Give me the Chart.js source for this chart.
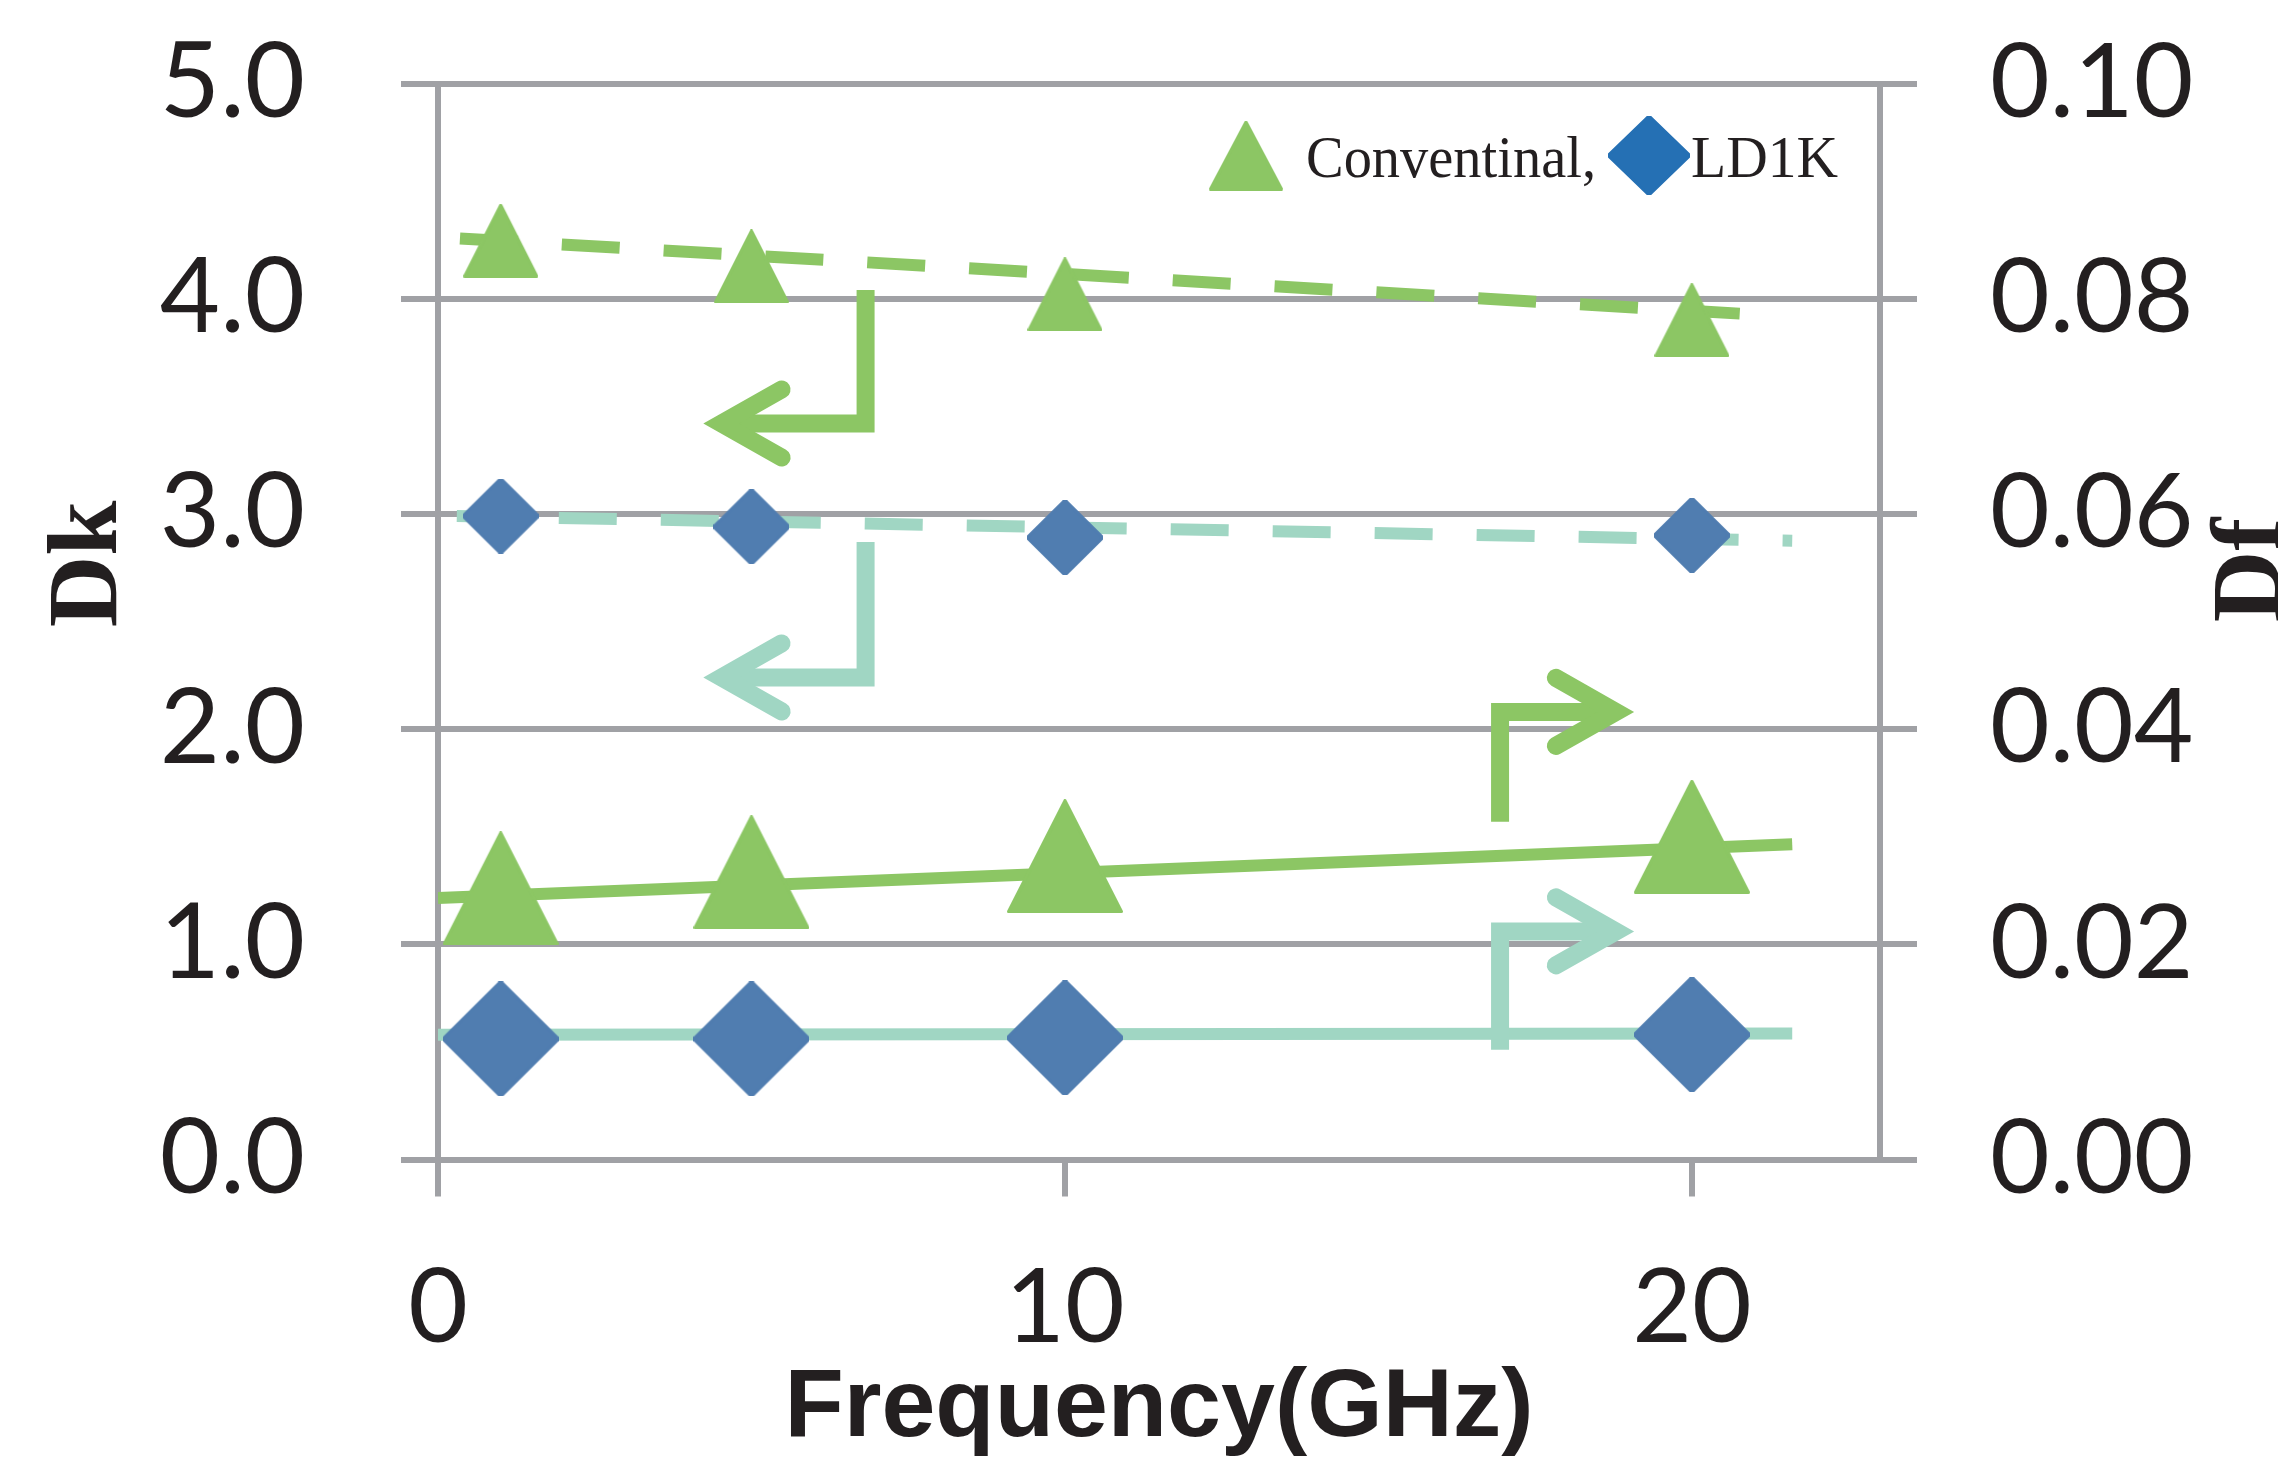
<!DOCTYPE html>
<html>
<head>
<meta charset="utf-8">
<script src="https://cdn.jsdelivr.net/npm/chart.js@4.4.1/dist/chart.umd.min.js"></script>
<style>
html, body { margin: 0; padding: 0; background: #fff; }
#box { width: 2278px; height: 1458px; position: relative; }
</style>
</head>
<body>
<div id="box"><canvas id="grafico"></canvas></div>
<script>
// valores
var frequencias = [1, 5, 10, 20];
var dkConventional = [4.27, 4.15, 4.02, 3.90];
var dkLD1K = [2.99, 2.94, 2.89, 2.90];
var dfConventional = [0.0252, 0.0267, 0.0282, 0.0300];
var dfLD1K = [0.0112, 0.0112, 0.0113, 0.0116];

// linhas de tendencia (inicio e fim)
var trendDkConvX = [0.35, 20.8];
var trendDkConventional = [4.28, 3.93];
var trendDkLD1KX = [0.3, 21.6];
var trendDkLD1K = [2.99, 2.875];
var trendDfX = [0, 21.6];
var trendDfConventional = [0.0243, 0.0293];
var trendDfLD1K = [0.0116, 0.0117];

var xTicks = [0, 10, 20];
var dkTicks = [0, 1, 2, 3, 4, 5];
var dfTicks = [0, 0.02, 0.04, 0.06, 0.08, 0.10];
var legendLabels = ['Conventinal,', 'LD1K'];

var GREEN = '#8CC664';
var TEAL = '#A0D6C3';
var BLUE = '#507DB0';
var LEGEND_BLUE = '#2570B4';
var GRID = '#A0A1A5';
var TEXT = '#231F20';

// setas: caminho em valores dos eixos, o ultimo ponto e a ponta
var arrows = [
    { axis: 'y', color: GREEN, x: [6.82, 6.82, 4.22], y: [4.04, 3.42, 3.42] },
    { axis: 'y', color: TEAL, x: [6.82, 6.82, 4.22], y: [2.87, 2.24, 2.24] },
    { axis: 'y1', color: GREEN, x: [16.94, 16.94, 19.09], y: [0.0314, 0.0416, 0.0416] },
    { axis: 'y1', color: TEAL, x: [16.94, 16.94, 19.09], y: [0.0102, 0.0212, 0.0212] }
];

function Marcador(forma, w, h, cor) {
    var c = document.createElement('canvas');
    c.width = w;
    c.height = h;
    var g = c.getContext('2d');
    g.fillStyle = cor;
    g.strokeStyle = cor;
    g.lineWidth = 3;
    g.lineJoin = 'round';
    g.beginPath();
    if (forma === 'tri') {
        g.moveTo(w / 2, 1.5);
        g.lineTo(w - 1.5, h - 1.5);
        g.lineTo(1.5, h - 1.5);
    } else {
        g.moveTo(w / 2, 0);
        g.lineTo(w, h / 2);
        g.lineTo(w / 2, h);
        g.lineTo(0, h / 2);
    }
    g.closePath();
    g.fill();
    g.stroke();
    return c;
}

function Pontos(xs, ys) {
    return xs.map(function (x, i) { return { x: x, y: ys[i] }; });
}

function Ticks(valores) {
    return function (s) {
        s.ticks = valores.map(function (v) { return { value: v }; });
    };
}

// tamanho fixo do eixo, sem a folga que o Chart.js soma para os rotulos
function Tamanho(campo, valor) {
    return function (s) {
        s[campo] = valor;
        s.paddingTop = 0;
        s.paddingBottom = 0;
        s.paddingLeft = 0;
        s.paddingRight = 0;
    };
}

function DesenharSeta(ctx, pts, cor) {
    var n = pts.length;
    var tip = pts[n - 1], prev = pts[n - 2];
    var dx = tip.x - prev.x, dy = tip.y - prev.y;
    var len = Math.sqrt(dx * dx + dy * dy);
    var ux = dx / len, uy = dy / len;
    var vx = tip.x - ux * 19, vy = tip.y - uy * 19;
    ctx.save();
    ctx.strokeStyle = cor;
    ctx.lineWidth = 18;
    ctx.lineCap = 'butt';
    ctx.lineJoin = 'miter';
    ctx.beginPath();
    ctx.moveTo(pts[0].x, pts[0].y);
    for (var i = 1; i < n - 1; i++) ctx.lineTo(pts[i].x, pts[i].y);
    ctx.lineTo(vx, vy);
    ctx.stroke();
    ctx.lineCap = 'round';
    ctx.miterLimit = 10;
    ctx.beginPath();
    ctx.moveTo(vx - ux * 60 - uy * 34, vy - uy * 60 + ux * 34);
    ctx.lineTo(vx, vy);
    ctx.lineTo(vx - ux * 60 + uy * 34, vy - uy * 60 - ux * 34);
    ctx.stroke();
    ctx.restore();
}

function TextoVertical(ctx, texto, x, y) {
    ctx.save();
    ctx.translate(x, y);
    ctx.rotate(-Math.PI / 2);
    ctx.font = 'bold 99px "Liberation Serif"';
    ctx.fillStyle = TEXT;
    ctx.textAlign = 'center';
    ctx.textBaseline = 'alphabetic';
    ctx.fillText(texto, 0, 0);
    ctx.restore();
}

var legTri = Marcador('tri', 74, 70, GREEN);
var legDia = Marcador('dia', 82, 79, LEGEND_BLUE);

var extras = {
    id: 'extras',
    afterDatasetsDraw: function (chart) {
        var ctx = chart.ctx;
        var sx = chart.scales.x;
        arrows.forEach(function (a) {
            var sy = chart.scales[a.axis];
            var pts = a.x.map(function (v, i) {
                return { x: sx.getPixelForValue(v), y: sy.getPixelForValue(a.y[i]) };
            });
            DesenharSeta(ctx, pts, a.color);
        });
    },
    afterDraw: function (chart) {
        var ctx = chart.ctx, area = chart.chartArea;
        // legenda
        var yc = area.top + 72;
        ctx.drawImage(legTri, area.right - 634 - 37, yc - 35);
        ctx.drawImage(legDia, area.right - 231 - 41, yc - 39.5);
        ctx.save();
        ctx.font = '60px "Liberation Serif"';
        ctx.fillStyle = TEXT;
        ctx.textBaseline = 'alphabetic';
        ctx.fillText(legendLabels[0], area.right - 574, area.top + 93, 290);
        ctx.fillText(legendLabels[1], area.right - 189, area.top + 93, 147);
        ctx.restore();
        // titulos dos eixos
        TextoVertical(ctx, 'Dk', 116, 564);
        TextoVertical(ctx, 'Df', 2280, 570);
    }
};

var ctx = document.getElementById('grafico').getContext('2d');

var grafico = new Chart(ctx, {
    type: 'scatter',
    data: {
        datasets: [
            {
                label: 'Conventinal Dk',
                data: Pontos(frequencias, dkConventional),
                yAxisID: 'y',
                pointStyle: Marcador('tri', 75, 74, GREEN),
                pointRadius: 10
            },
            {
                label: 'LD1K Dk',
                data: Pontos(frequencias, dkLD1K),
                yAxisID: 'y',
                pointStyle: Marcador('dia', 76, 75, BLUE),
                pointRadius: 10
            },
            {
                label: 'Conventinal Df',
                data: Pontos(frequencias, dfConventional),
                yAxisID: 'y1',
                pointStyle: Marcador('tri', 116, 114, GREEN),
                pointRadius: 10
            },
            {
                label: 'LD1K Df',
                data: Pontos(frequencias, dfLD1K),
                yAxisID: 'y1',
                pointStyle: Marcador('dia', 116, 115, BLUE),
                pointRadius: 10
            },
            {
                data: Pontos(trendDkConvX, trendDkConventional),
                yAxisID: 'y', showLine: true, pointRadius: 0,
                borderColor: GREEN, borderWidth: 12, borderDash: [58, 44], borderCapStyle: 'butt'
            },
            {
                data: Pontos(trendDkLD1KX, trendDkLD1K),
                yAxisID: 'y', showLine: true, pointRadius: 0,
                borderColor: TEAL, borderWidth: 12, borderDash: [58, 44], borderCapStyle: 'butt'
            },
            {
                data: Pontos(trendDfX, trendDfConventional),
                yAxisID: 'y1', showLine: true, pointRadius: 0,
                borderColor: GREEN, borderWidth: 12, borderCapStyle: 'butt'
            },
            {
                data: Pontos(trendDfX, trendDfLD1K),
                yAxisID: 'y1', showLine: true, pointRadius: 0,
                borderColor: TEAL, borderWidth: 12, borderCapStyle: 'butt'
            }
        ]
    },
    options: {
        responsive: true,
        maintainAspectRatio: false,
        animation: false,
        devicePixelRatio: 1,
        layout: { padding: { top: 83.5, left: 0, right: 0, bottom: 0 } },
        plugins: { legend: { display: false }, tooltip: { enabled: false } },
        scales: {
            x: {
                type: 'linear', position: 'bottom', min: 0, max: 23,
                afterBuildTicks: Ticks(xTicks),
                afterFit: Tamanho('height', 298.5),
                grid: { drawOnChartArea: false, color: GRID, lineWidth: 6, tickLength: 37 },
                border: { display: false },
                ticks: { font: { family: 'Lato', size: 103 }, color: TEXT, padding: 50, maxRotation: 0 },
                title: {
                    display: true, text: 'Frequency(GHz)', color: TEXT, padding: 0,
                    font: { family: 'Liberation Sans', size: 97, weight: 'bold', lineHeight: 1 }
                }
            },
            y: {
                type: 'linear', position: 'left', min: 0, max: 5,
                afterBuildTicks: Ticks(dkTicks),
                afterFit: Tamanho('width', 438),
                grid: { color: GRID, lineWidth: 6, tickLength: 37 },
                border: { display: true, color: GRID, width: 6 },
                ticks: {
                    font: { family: 'Lato', size: 104 }, color: TEXT, padding: 96,
                    callback: function (v) { return v.toFixed(1); }
                }
            },
            y1: {
                type: 'linear', position: 'right', min: 0, max: 0.1,
                afterBuildTicks: Ticks(dfTicks),
                afterFit: Tamanho('width', 398),
                grid: { drawOnChartArea: false, color: GRID, lineWidth: 6, tickLength: 37 },
                border: { display: true, color: GRID, width: 6 },
                ticks: {
                    font: { family: 'Lato', size: 103 }, color: TEXT, padding: 73,
                    callback: function (v) { return v.toFixed(2); }
                }
            }
        }
    },
    plugins: [extras]
});
</script>
</body>
</html>
